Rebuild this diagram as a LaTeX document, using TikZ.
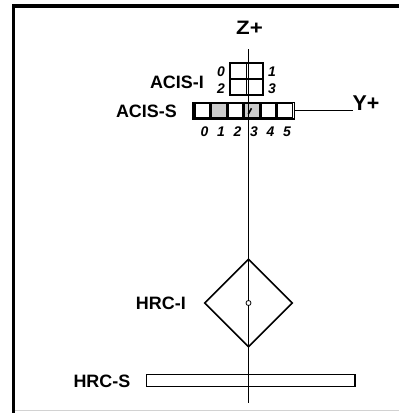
\documentclass[tikz,border=0pt]{standalone}
\usepackage{fontspec}
\newfontfamily\lab{Liberation Sans}
\newfontfamily\zlab[FakeStretch=1.15]{Liberation Sans}
\usetikzlibrary{shapes.geometric}
\begin{document}
\begin{tikzpicture}[x=1bp,y=-1bp,
  lbl/.style={font=\lab\bfseries\fontsize{18}{20}\selectfont, inner sep=0pt, anchor=base east},
  axlbl/.style={font=\lab\bfseries\fontsize{21.5}{23}\selectfont, inner sep=0pt},
  num/.style={font=\lab\bfseries\itshape\fontsize{14}{15}\selectfont, inner sep=0pt, anchor=base},
  box/.style={draw, line width=1.6bp, inner sep=0pt},
  chip/.style={box, line width=1.3bp, minimum width=15bp, minimum height=14bp},
  shadedchip/.style={chip, fill=gray!40},
  axisline/.style={line width=0.9bp}]
\useasboundingbox (0,0) rectangle (399,413);
% frame
\draw[line width=3.5bp] (13.5,413) -- (13.5,6) -- (399,6);
\draw[gray!35, line width=1bp] (15,410.5) -- (399,410.5);
% ACIS-S chips (fills first)
\node[box, minimum width=101bp, minimum height=16.4bp] (aciss) at (243.8,110.5) {};
\foreach \i in {0,...,5} {
  \pgfmathsetmacro{\cx}{202.5+16.5*\i}
  \ifnum\i=1 \node[shadedchip] (c\i) at (\cx,110.5) {};
  \else\ifnum\i=3 \node[shadedchip] (c\i) at (\cx,110.5) {};
  \else \node[chip] (c\i) at (\cx,110.5) {};\fi\fi
  \node[num] (n\i) at (\cx+2,136) {\i};
}
% axis
\coordinate (ztop) at (248,49);
\coordinate (zbot) at (248,403);
\draw[axisline] (ztop) -- (zbot);
\node[font=\zlab\bfseries\fontsize{19.5}{22}\selectfont, inner sep=0pt, anchor=base] (zp) at (249.5,34.3) {Z+};
% small mark in chip 3
\draw[line width=1.6bp] (248.3,114) -- (251.5,108.3);
% ACIS-I
\node[box, minimum size=32.5bp] (acisi) at (246.5,79) {};
\draw[line width=1.5bp] (acisi.north) -- (acisi.south);
\draw[line width=1.5bp] (acisi.west) -- (acisi.east);
\node[num] (a0) at (221,76) {0};
\node[num] (a2) at (221,93) {2};
\node[num] (a1) at (272,76) {1};
\node[num] (a3) at (272,93) {3};
\node[lbl] (lai) at (204,88.5) {ACIS-I};
\node[lbl] (las) at (177,117) {ACIS-S};
% Y+
\node[axlbl, anchor=base west] (yp) at (352.5,110.5) {Y+};
\draw[axisline] (aciss.east) -- (aciss.east -| yp.west);
% HRC-I
\node[box, diamond, aspect=1, minimum width=88bp, minimum height=88bp] (hrci) at (248.5,303) {};
\node[draw, circle, fill=white, line width=0.8bp, minimum size=5bp, inner sep=0pt] (hc) at (hrci.center) {};
\node[lbl] (lhi) at (186,309.5) {HRC-I};
% HRC-S
\node[box, line width=1.3bp, minimum width=208.3bp, minimum height=12.4bp] (hrcs) at (250.8,380.5) {};
\node[lbl] (lhs) at (130.5,387) {HRC-S};
\end{tikzpicture}
\end{document}
